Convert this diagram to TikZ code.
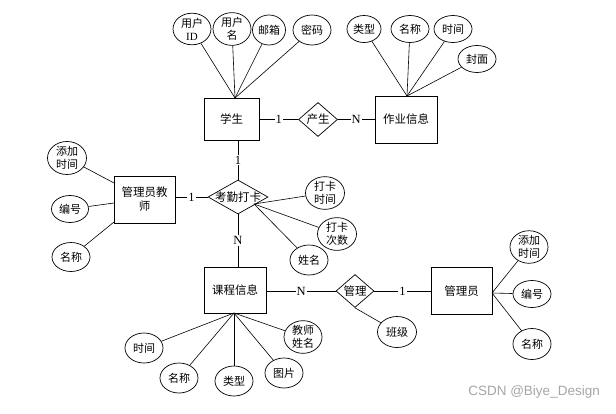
\documentclass[tikz,border=0pt]{standalone}
\usepackage{fontspec}
\setmainfont{Liberation Serif}
\setsansfont{Liberation Sans}
\newfontfamily\cjk{Noto Sans CJK SC}
\usetikzlibrary{shapes.geometric}
\begin{document}
\begin{tikzpicture}[x=1pt,y=-1pt,
  ent/.style={draw, line width=0.9pt, inner sep=0pt, font=\cjk\fontsize{11.5}{14}\selectfont, align=center},
  rel/.style={draw, shape=diamond, line width=0.7pt, inner sep=0pt},
  attr/.style={draw, ellipse, line width=0.7pt, inner sep=0pt, minimum width=38pt, minimum height=30pt, font=\cjk\fontsize{11}{13}\selectfont, align=center},
  lnk/.style={line width=0.6pt},
  card/.style={fill=white, inner sep=1pt, font=\rmfamily\fontsize{12.5}{14}\selectfont},
  rtext/.style={font=\cjk\fontsize{11.5}{14}\selectfont, inner sep=0pt}]
\useasboundingbox (0,0) rectangle (616,413);
\fill[white] (0,0) rectangle (616,413);

% entities
\node[ent, minimum width=55pt, minimum height=42pt] (s) at (231.5,119) {学生};
\node[ent, minimum width=62pt, minimum height=47pt] (hw) at (406,119.5) {作业信息};
\node[ent, minimum width=61pt, minimum height=47pt] (t) at (144.5,199.5) {管理员教\\师};
\node[ent, minimum width=62pt, minimum height=46pt] (c) at (235,290) {课程信息};
\node[ent, minimum width=61pt, minimum height=47pt] (a) at (461.5,291) {管理员};

% relationships
\node[rel, minimum width=39pt, minimum height=34pt, label={[rtext, name=d1t]center:产生}] (d1) at (318,119.5) {};
\node[rel, minimum width=60pt, minimum height=34pt, label={[rtext, name=kqt]center:考勤打卡}] (kq) at (238,197) {};
\node[rel, minimum width=38pt, minimum height=33pt, label={[rtext, name=glt]center:管理}] (gl) at (355,291) {};

% attributes of 学生
\node[attr, minimum height=31pt] (uid) at (192,29) {用户\\{\rmfamily ID}};
\node[attr, minimum height=31pt] (uname) at (232,29) {用户\\名};
\node[attr, minimum width=33pt] (email) at (269,30) {邮箱};
\node[attr] (pwd) at (312,30) {密码};
\coordinate (sTop) at (235,98);
\foreach \n in {uid,uname,email,pwd} \draw[lnk] (sTop) -- (\n);

% attributes of 作业信息
\node[attr, minimum width=34pt, minimum height=27pt] (hty) at (364,29) {类型};
\node[attr, minimum height=27pt] (hna) at (410,29) {名称};
\node[attr, minimum height=27pt] (hti) at (453,29) {时间};
\node[attr, minimum height=27pt] (hco) at (477,59) {封面};
\coordinate (hwTop) at (407,96);
\foreach \n in {hty,hna,hti,hco} \draw[lnk] (hwTop) -- (\n);

% attributes of 管理员教师
\node[attr, minimum width=39pt, minimum height=33pt] (tadd) at (67,158) {添加\\时间};
\node[attr, minimum width=37pt, minimum height=27pt] (tno) at (70,209) {编号};
\node[attr, minimum height=29pt] (tna) at (71,257) {名称};
\coordinate (tw1) at (114,183);
\coordinate (tw2) at (114,203);
\coordinate (tw3) at (114,222);
\draw[lnk] (tadd) -- (tw1);
\draw[lnk] (tno) -- (tw2);
\draw[lnk] (tna) -- (tw3);

% attributes of 考勤打卡
\node[attr, minimum width=39pt, minimum height=32pt] (kti) at (325,193) {打卡\\时间};
\node[attr, minimum width=39pt, minimum height=32pt] (kci) at (337,234) {打卡\\次数};
\node[attr] (kna) at (309,260) {姓名};
\coordinate (kqP) at (254,204);
\foreach \n in {kti,kci,kna} \draw[lnk] (kqP) -- (\n);

% attributes of 课程信息
\node[attr] (cti) at (144,348) {时间};
\node[attr] (cna) at (179,378) {名称};
\node[attr] (cty) at (234,381) {类型};
\node[attr] (cpi) at (284,373) {图片};
\node[attr, minimum height=32pt] (ctn) at (303,337) {教师\\姓名};
\coordinate (cBot) at (234,313);
\foreach \n in {cti,cna,cty,cpi,ctn} \draw[lnk] (cBot) -- (\n);

% attribute of 管理
\node[attr, minimum width=39pt, minimum height=31pt] (bj) at (397,332) {班级};
\draw[lnk] (gl.south) -- (bj);

% attributes of 管理员
\node[attr, minimum height=32pt] (aadd) at (529,247) {添加\\时间};
\node[attr, minimum height=27pt] (ano) at (532,294) {编号};
\node[attr, minimum height=31pt] (ana) at (532,344) {名称};
\coordinate (aE) at (492,293);
\foreach \n in {aadd,ano,ana} \draw[lnk] (aE) -- (\n);

% relationship links with cardinalities
\draw[lnk] (s.east |- d1) -- node[card] (l1) {1} (d1.west);
\draw[lnk] (d1.east) -- node[card] (l2) {N} (hw.west |- d1);
\draw[lnk] (s.south -| kq.north) -- node[card] (l3) {1} (kq.north);
\draw[lnk] (t.east |- kq) -- node[card] (l4) {1} (kq.west);
\draw[lnk] (kq.south) -- node[card] (l5) {N} (kq.south |- c.north);
\draw[lnk] (c.east |- gl) -- node[card] (l6) {N} (gl.west);
\draw[lnk] (gl.east) -- node[card] (l7) {1} (a.west |- gl);

% watermark
\node[anchor=east, text=black!35, font=\sffamily\fontsize{13.5}{15}\selectfont, inner sep=0pt] (wm) at (600,392) {CSDN @Biye\_Design};
\end{tikzpicture}
\end{document}
